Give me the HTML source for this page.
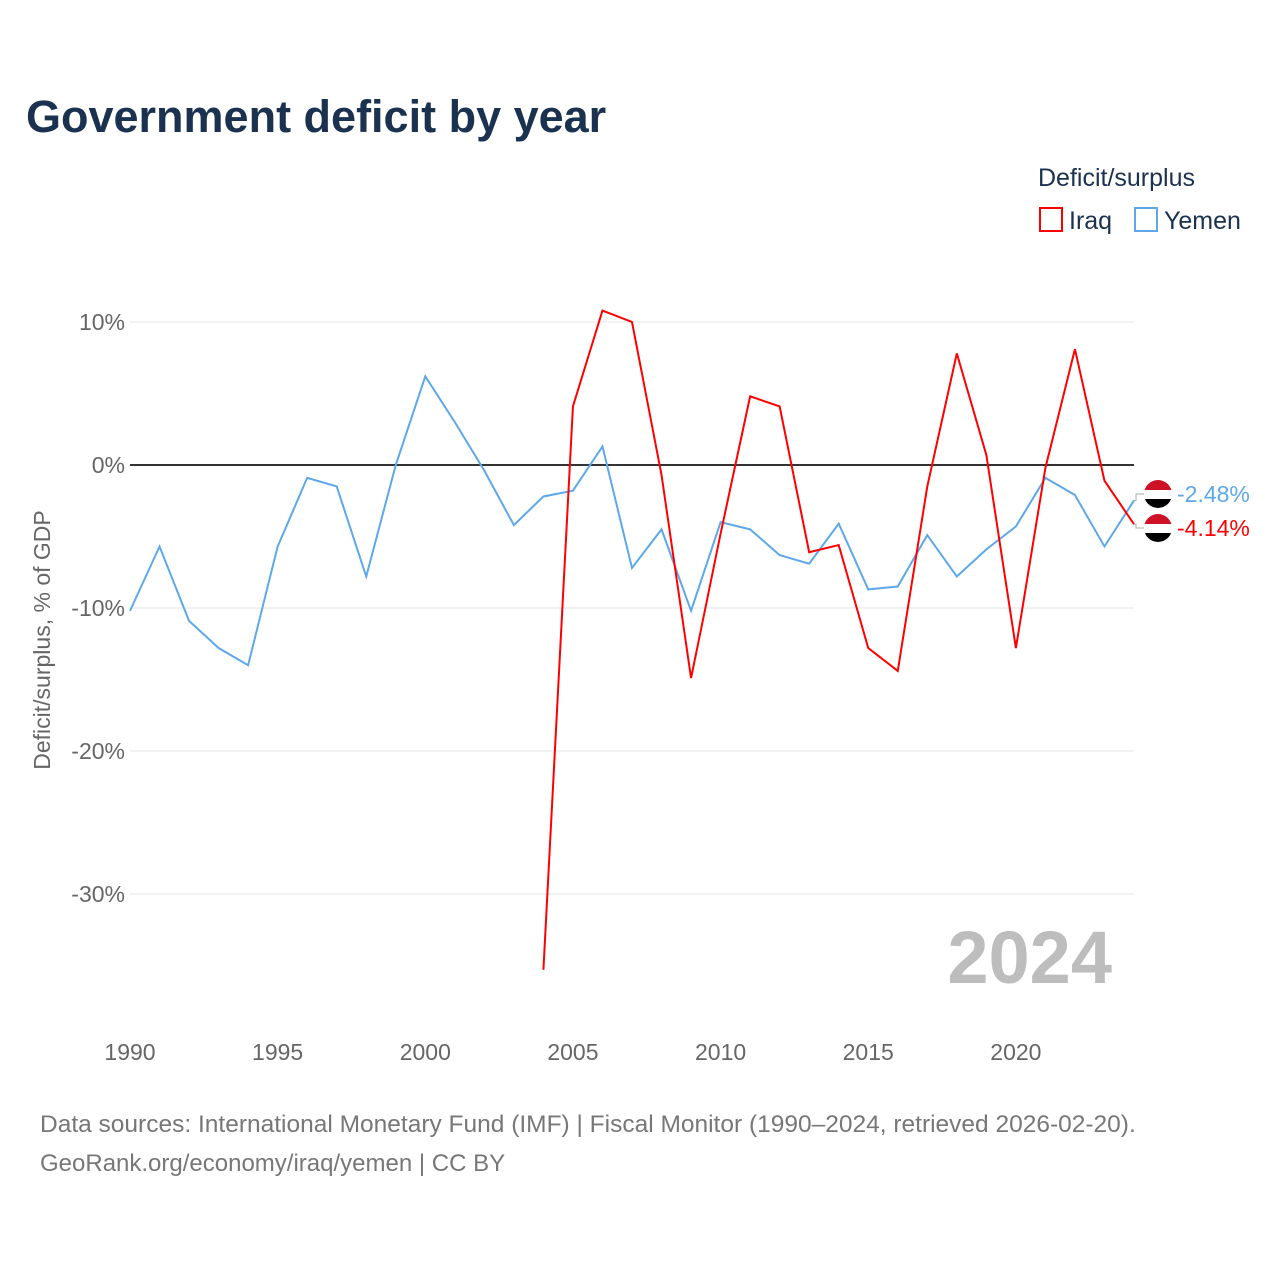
<!DOCTYPE html>
<html><head><meta charset="utf-8"><style>
body{margin:0;background:#fff;font-family:"Liberation Sans",sans-serif;}
#wrap{position:relative;width:1280px;height:1280px;overflow:hidden;}
</style></head><body>
<div id="wrap">
<svg id="chart" width="1280" height="1280" xmlns="http://www.w3.org/2000/svg">
<defs>
<clipPath id="c1"><circle cx="1158" cy="494" r="14"/></clipPath>
<clipPath id="c2"><circle cx="1158" cy="528" r="14"/></clipPath>
</defs>
<text x="26" y="132" font-size="45" font-weight="bold" fill="#1a3150">Government deficit by year</text>
<text x="1038" y="186" font-size="25" fill="#1a3150">Deficit/surplus</text>
<rect x="1040" y="208" width="22" height="23" fill="none" stroke="#ff0000" stroke-width="2"/>
<text x="1069" y="229" font-size="25" fill="#1a3150">Iraq</text>
<rect x="1135" y="208" width="22" height="23" fill="none" stroke="#5ea8ea" stroke-width="2"/>
<text x="1164" y="229" font-size="25" fill="#1a3150">Yemen</text>
<text transform="translate(50,640) rotate(-90)" text-anchor="middle" font-size="23" fill="#666">Deficit/surplus, % of GDP</text>
<text x="1112" y="983" text-anchor="end" font-size="74" font-weight="bold" fill="#bdbdbd">2024</text>
<g id="grid"></g><g id="series"></g>
<text x="40" y="1132" font-size="24.5" fill="#777">Data sources: International Monetary Fund (IMF) | Fiscal Monitor (1990–2024, retrieved 2026-02-20).</text>
<text x="40" y="1171" font-size="24" fill="#777">GeoRank.org/economy/iraq/yemen | CC BY</text>
</svg></div>
<script>
const years=[];for(let y=1990;y<=2024;y++)years.push(y);
const yemen=[-10.2,-5.7,-10.9,-12.8,-14.0,-5.7,-0.9,-1.5,-7.8,0,6.2,3.0,-0.4,-4.2,-2.2,-1.8,1.3,-7.2,-4.5,-10.2,-4.0,-4.5,-6.3,-6.9,-4.1,-8.7,-8.5,-4.9,-7.8,-5.9,-4.3,-0.9,-2.1,-5.7,-2.48];
const iraqYears=[2004,2005,2006,2007,2008,2009,2010,2011,2012,2013,2014,2015,2016,2017,2018,2019,2020,2021,2022,2023,2024];
const iraq=[-35.3,4.1,10.8,10.0,-0.7,-14.9,-4.8,4.8,4.1,-6.1,-5.6,-12.8,-14.4,-1.5,7.8,0.7,-12.8,-0.2,8.1,-1.1,-4.14];
const yTicks=[10,0,-10,-20,-30];
const xTicks=[1990,1995,2000,2005,2010,2015,2020];
const X=y=>130+(y-1990)*(1134-130)/34;
const Y=v=>465-v*14.3;
const NS='http://www.w3.org/2000/svg';
const g=document.getElementById('grid'),s=document.getElementById('series');
function mk(tag,at,par){const e=document.createElementNS(NS,tag);for(const k in at)e.setAttribute(k,at[k]);par.appendChild(e);return e;}
yTicks.forEach(t=>{
 const l=mk('line',{x1:130,x2:1134,y1:Y(t),y2:Y(t),stroke:t===0?'#333':'#e6e6e6','stroke-width':t===0?2:1},g);
 
 
 const tx=mk('text',{x:125,y:Y(t)+8,'text-anchor':'end','font-size':23,fill:'#666'},g);
 tx.textContent=t+'%';
 
 
});
xTicks.forEach(t=>{
 const tx=mk('text',{x:X(t),y:1060,'text-anchor':'middle','font-size':23,fill:'#666'},g);
 tx.textContent=t;
 
 
});
const py=mk('polyline',{points:years.map((y,i)=>X(y)+','+Y(yemen[i])).join(' '),fill:'none',stroke:'#5ea8ea','stroke-width':2},s);


const pi=mk('polyline',{points:iraqYears.map((y,i)=>X(y)+','+Y(iraq[i])).join(' '),fill:'none',stroke:'#ff0000','stroke-width':2},s);


function endLabel(val,ly,col,name,clip){
 const yv=Y(val);
 mk('polyline',{points:`${X(2024)},${yv} 1136,${yv} 1136,${ly} 1144,${ly}`,fill:'none',stroke:'#aaa','stroke-width':1},s);
 const f=mk('g',{'clip-path':`url(#${clip})`},s);
 
 
 mk('rect',{x:1144,y:ly-14,width:28,height:10,fill:'#ce1126'},f);
 mk('rect',{x:1144,y:ly-4,width:28,height:9,fill:'#fff'},f);
 mk('rect',{x:1144,y:ly+5,width:28,height:10,fill:'#000'},f);
 const t=mk('text',{x:1177,y:ly+8,'font-size':23,fill:col},s);
 t.textContent=val.toFixed(2)+'%';
 
 
}
endLabel(yemen[yemen.length-1],494,'#5ea8ea','yemen','c1');
endLabel(iraq[iraq.length-1],528,'#ff0000','iraq','c2');
</script>
</body></html>
